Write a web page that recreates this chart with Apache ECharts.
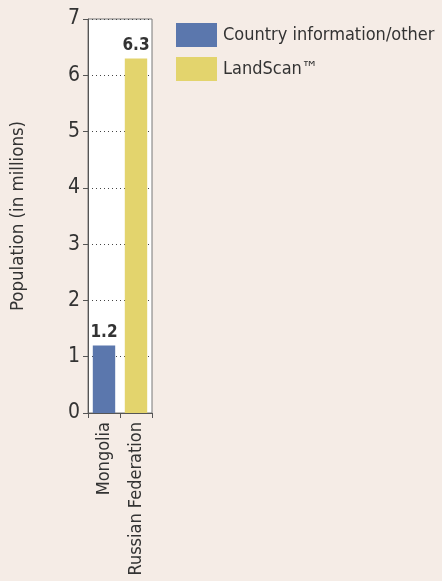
<!DOCTYPE html>
<html><head><meta charset="utf-8">
<script src="https://cdn.jsdelivr.net/npm/echarts@6/dist/echarts.min.js"></script>
<style>html,body{margin:0;padding:0;background:#f5ece6;}#c{width:442px;height:581px;}</style>
</head><body><div id="c"></div>
<script>
const categories = ['Mongolia', 'Russian Federation'];
const countryInfo = [1.2, '-'];
const landScan = ['-', 6.3];
const seriesNames = ['Country information/other', 'LandScan\u2122'];
const FONT = "'DejaVu Sans Condensed','Liberation Sans Narrow',sans-serif";
const chart = echarts.init(document.getElementById('c'));
const labelCfg = {show: true, position: 'top', fontFamily: FONT, fontWeight: 'bold', fontSize: 17, color: '#333', distance: 4};
chart.setOption({
  backgroundColor: '#f5ece6',
  animation: false,
  grid: {left: 88, right: 290, top: 19, bottom: 168, outerBoundsMode: 'none', containLabel: false, show: true, backgroundColor: '#fff', borderColor: '#777', borderWidth: 1},
  legend: {
    left: 171, top: 18, orient: 'vertical', itemWidth: 41, itemHeight: 24, itemGap: 10,
    icon: 'rect',
    textStyle: {fontFamily: FONT, fontSize: 18, color: '#333', padding: [0,0,0,1]},
    data: seriesNames
  },
  xAxis: {
    type: 'category', data: categories,
    axisLine: {lineStyle: {color: '#555'}},
    axisTick: {show: true, length: 5, lineStyle: {color: '#555'}},
    axisLabel: {rotate: 90, fontFamily: FONT, fontSize: 18, color: '#333', margin: 9}
  },
  yAxis: {
    type: 'value', min: 0, max: 7, interval: 1,
    name: 'Population (in millions)', nameLocation: 'middle', nameGap: 60,
    nameTextStyle: {fontFamily: FONT, fontSize: 18.5, color: '#333'},
    axisLine: {show: true, lineStyle: {color: '#555'}},
    axisTick: {show: true, length: 5, lineStyle: {color: '#555'}},
    axisLabel: {fontFamily: FONT, fontSize: 21, color: '#333', margin: 8},
    splitLine: {show: true, lineStyle: {type: [1, 3], color: '#444'}}
  },
  series: [
    {name: seriesNames[0], type: 'bar', stack: 's', data: countryInfo, barWidth: '70%', itemStyle: {color: '#5b77ad'}, label: labelCfg},
    {name: seriesNames[1], type: 'bar', stack: 's', data: landScan, barWidth: '70%', itemStyle: {color: '#e3d46d'}, label: labelCfg}
  ]
});
</script></body></html>
